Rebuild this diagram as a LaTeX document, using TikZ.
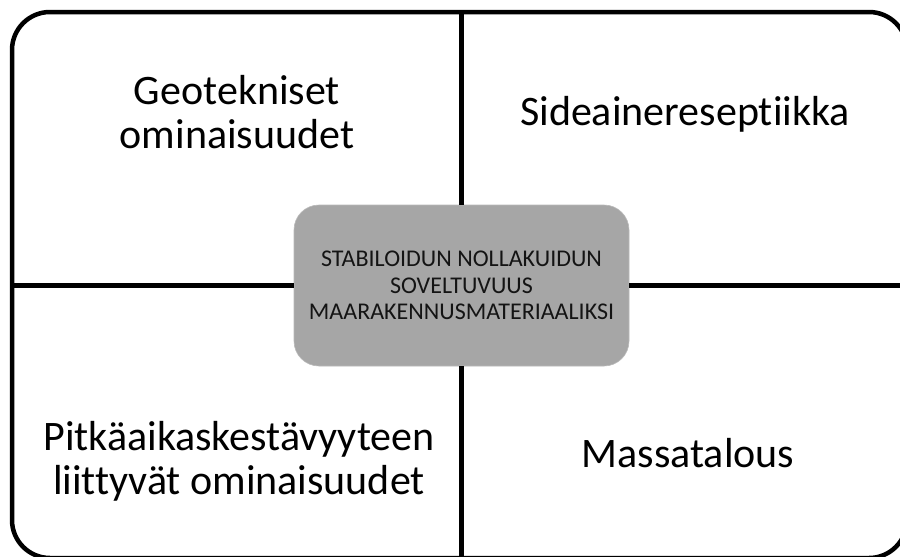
\documentclass[tikz,border=0pt]{standalone}
\usepackage{fontspec}
\setmainfont{Carlito}[RawFeature={-liga;-clig;-dlig}]
\begin{document}
\begin{tikzpicture}[x=1pt,y=-1pt,
  frame/.style={line width=4.5pt,black},
  divider/.style={line width=5pt,black},
  bigtext/.style={font=\fontsize{42}{44}\selectfont,align=center,inner sep=0pt,text=black},
  centerbox/.style={fill=boxgray,draw=boxedge,line width=0.6pt,rounded corners=25pt,minimum width=335pt,minimum height=161pt,inner sep=0pt,align=center,font=\fontsize{24}{26.5}\selectfont,text=textdark}]
\definecolor{boxgray}{RGB}{166,166,166}
\definecolor{boxedge}{RGB}{185,185,185}
\definecolor{textdark}{RGB}{20,20,20}
\useasboundingbox (0,0) rectangle (900,557);
\clip (0,0) rectangle (900,557);
\fill[white] (0,0) rectangle (900,557);
% outer frame
\draw[frame,rounded corners=38pt] (12,12) rectangle (907,558);
% center box
\node[centerbox] (core) at (461.5,285.5) {STABILOIDUN NOLLAKUIDUN\\SOVELTUVUUS\\MAARAKENNUSMATERIAALIKSI};
% divider end points on the frame
\coordinate (top) at (461,12);
\coordinate (bottom) at (461,558);
\coordinate (left) at (12,285);
\coordinate (right) at (907,285);
\draw[divider] (top) -- (core.north -| top);
\draw[divider] (core.south -| bottom) -- (bottom);
\draw[divider] (left) -- (core.west |- left);
\draw[divider] (core.east |- right) -- (right);
% quadrant labels
\node[bigtext] (geo) at (237,112) {Geotekniset\\ominaisuudet};
\node[bigtext,anchor=base] (side) at (685,125) {Sideainereseptiikka};
\node[bigtext] (pitka) at (239,461) {Pitkäaikaskestävyyteen\\liittyvät ominaisuudet};
\node[bigtext,anchor=base] (massa) at (688,467) {Massatalous};
\end{tikzpicture}
\end{document}
